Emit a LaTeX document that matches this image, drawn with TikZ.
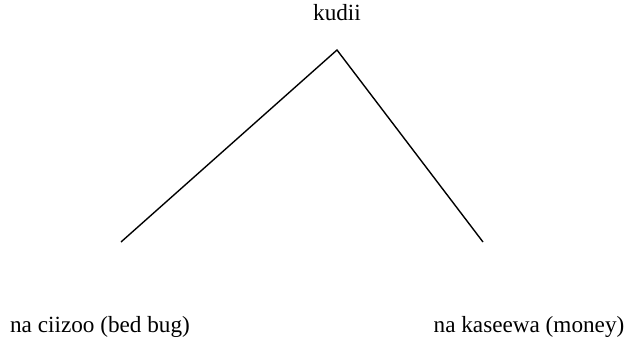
\documentclass[tikz,border=0pt]{standalone}
\usepackage{fontspec}
\setmainfont{Liberation Serif}
\usetikzlibrary{positioning}

\begin{document}
\begin{tikzpicture}[
  x=0.5pt, y=0.5pt,
  every node/.style={font=\fontsize{11.6}{14}\selectfont, inner sep=0pt},
  branch/.style={draw=black, line width=0.7pt},
]
\useasboundingbox (0,0) rectangle (629,-344);
% tree
\node (root) at (337,-13) {kudii};
\coordinate (top) at (337,-50);
\coordinate (leftend) at (121,-242);
\coordinate (rightend) at (483,-242);
\draw[branch] (leftend) -- (top) -- (rightend);

% leaves
\node (bedbug) at (100,-327) {na ciizoo (bed bug)};
\node (money) at (529,-327) {na kaseewa (money)};
\end{tikzpicture}
\end{document}
